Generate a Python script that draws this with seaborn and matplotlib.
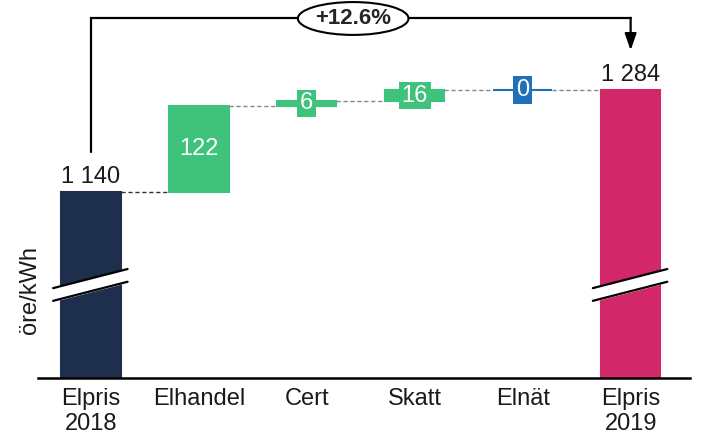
import numpy as np
import pandas as pd
import seaborn as sns
import matplotlib.pyplot as plt

sns.set_style("white")
plt.rcParams['font.family'] = ['Liberation Sans', 'DejaVu Sans']

# data
categories = ["Elpris\n2018", "Elhandel", "Cert", "Skatt", "Elnät", "Elpris\n2019"]
changes = [1140, 122, 6, 16, 0, 1284]
labels = ["1 140", "122", "6", "16", "0", "1 284"]
colors = ["#1E2F4D", "#3EC27C", "#3EC27C", "#3EC27C", "#1F70B8", "#D2286A"]
change_pct = "+12.6%"

ymin, ymax = 877, 1397

# bottoms / tops of the waterfall
bottoms = [ymin]
tops = [changes[0]]
run = changes[0]
for c in changes[1:-1]:
    bottoms.append(run)
    run += c
    tops.append(run)
bottoms.append(ymin)
tops.append(changes[-1])
heights = [t - b for t, b in zip(tops, bottoms)]

df = pd.DataFrame({"cat": categories, "h": heights})

fig = plt.figure(figsize=(7.27, 4.37), dpi=100)
ax = fig.add_axes([38/727, 1 - 378/437, 652/727, 368/437])

sns.barplot(data=df, x="cat", y="h", order=categories, bottom=bottoms,
            color=colors[0], saturation=1, width=0.55, errorbar=None, ax=ax)
for p, c in zip(ax.patches, colors):
    p.set_facecolor(c)
    p.set_edgecolor(c)
    p.set_linewidth(1.5)

fs = 17
ax.set_xlim(-0.49, 5.55)
ax.set_ylim(ymin, ymax)
ax.set_yticks([])
ax.set_xlabel("")
ax.set_ylabel("öre/kWh", fontsize=fs, color="#1a1a1a")
ax.yaxis.set_label_coords(0.004, 0.24)
ax.tick_params(axis="x", length=0, labelsize=fs, pad=7, labelcolor="#1a1a1a")
for s in ["top", "right", "left"]:
    ax.spines[s].set_visible(False)
ax.spines["bottom"].set_color("black")
ax.spines["bottom"].set_linewidth(1.8)

# connectors
hw = 0.55 / 2
for i in range(len(categories) - 1):
    lvl = tops[i]
    ax.plot([i + hw, i + 1 - hw], [lvl, lvl], ls=(0, (3, 2)), lw=1,
            color="#333333" if i == 0 else "#888888", zorder=1)

# value labels
ax.text(0, tops[0] + 6, labels[0], ha="center", va="bottom", fontsize=fs, color="#1a1a1a")
ax.text(5, tops[5] + 6, labels[5], ha="center", va="bottom", fontsize=fs, color="#1a1a1a")
ax.text(1, (tops[1] + bottoms[1]) / 2, labels[1], ha="center", va="center",
        fontsize=fs, color="white")
for i in [2, 3, 4]:
    ax.text(i, (tops[i] + bottoms[i]) / 2, labels[i], ha="center", va="center",
            fontsize=fs, color="white", zorder=5,
            bbox=dict(boxstyle="square,pad=0.12", fc=colors[i], ec="none"))

# axis break marks
for xc in [0, 5]:
    xs = np.array([xc - 0.35, xc + 0.34])
    up = np.array([1004, 1031])
    lo = np.array([986, 1013])
    ax.fill_between(xs, lo, up, color="white", zorder=4)
    ax.plot(xs, up, color="black", lw=1.6, zorder=5)
    ax.plot(xs, lo, color="black", lw=1.6, zorder=5)

# bracket with change
yb = 1385
ax.plot([0, 0, 5], [1196, yb, yb], color="black", lw=1.6, clip_on=False,
        solid_joinstyle="miter")
ax.annotate("", xy=(5, 1340), xytext=(5, yb + 1),
            arrowprops=dict(arrowstyle="-|>,head_length=1.0,head_width=0.35",
                            color="black", lw=1.6, shrinkA=0, shrinkB=0))
ax.text(2.43, yb, change_pct, ha="center", va="center", fontsize=16,
        fontweight="bold", zorder=6,
        bbox=dict(boxstyle="ellipse,pad=0.05", fc="white", ec="black", lw=1.5))

fig.savefig("out.png", dpi=100)
